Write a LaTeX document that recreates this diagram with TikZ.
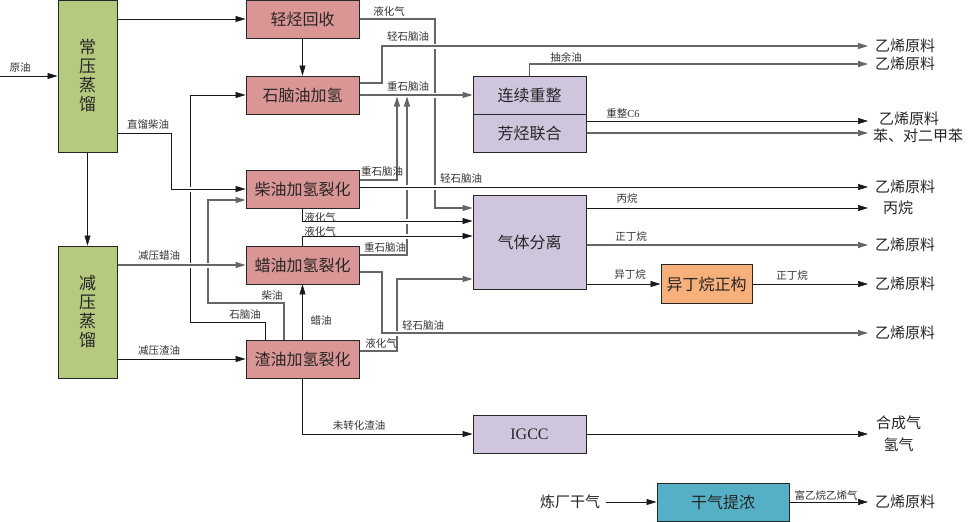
\documentclass[tikz,border=0pt]{standalone}
\usepackage{fontspec}
\setmainfont{Liberation Serif}
\newfontfamily\cjk{Noto Sans CJK SC}
\usetikzlibrary{arrows.meta}
\definecolor{boxgreen}{HTML}{B5C97F}
\definecolor{boxred}{HTML}{D99694}
\definecolor{boxpurple}{HTML}{CFC6DD}
\definecolor{boxorange}{HTML}{F7B07A}
\definecolor{boxteal}{HTML}{55B0C5}
\pgfdeclarelayer{bg}
\pgfsetlayers{bg,main}
\begin{document}
\begin{tikzpicture}[x=1pt,y=-1pt,
  box/.style={draw=black!85,line width=0.9pt,inner sep=0pt,text=black!85,
    minimum width=113pt,minimum height=38pt,font=\cjk\fontsize{16}{16}\selectfont},
  redbox/.style={box,fill=boxred},
  purbox/.style={box,fill=boxpurple},
  grnbox/.style={box,fill=boxgreen,minimum width=59pt,align=center,font=\cjk\fontsize{17}{19}\selectfont},
  lab/.style={inner sep=0pt,text=black!80,font=\cjk\fontsize{10.5}{11}\selectfont},
  outtxt/.style={anchor=west,inner ysep=0pt,inner xsep=7pt,text=black!85,font=\cjk\fontsize{15}{22}\selectfont},
  bl/.style={draw=black!90,line width=0.6pt},
  gl/.style={draw=black!60,line width=1.1pt},
  arr/.style={-{Triangle[length=10pt,width=6pt]}},
  jump/.style={preaction={draw=white,line width=5pt,-}}]
\useasboundingbox (0,0) rectangle (970,522);

% ---- boxes ----
\node[grnbox,minimum height=152pt] (cz) at (87.5,76) {常\\压\\蒸\\馏};
\node[grnbox,minimum height=132pt] (jz) at (87.5,312) {减\\压\\蒸\\馏};
\node[redbox] (qt) at (302.5,19) {轻烃回收};
\node[redbox] (sn) at (302.5,95) {石脑油加氢};
\node[redbox] (cy) at (302.5,189) {柴油加氢裂化};
\node[redbox] (ly) at (302.5,265) {蜡油加氢裂化};
\node[redbox] (zy) at (302.5,359) {渣油加氢裂化};
\node[purbox] (lx) at (529.5,95) {连续重整};
\node[purbox] (fh) at (529.5,133) {芳烃联合};
\node[purbox,minimum height=94pt] (qf) at (529.5,242) {气体分离};
\node[purbox,font=\fontsize{16}{16}\selectfont] (ig) at (529.5,434) {IGCC};
\node[box,fill=boxorange,minimum width=91pt,minimum height=39pt] (yd) at (706.5,284) {异丁烷正构};
\node[box,fill=boxteal,minimum width=132pt] (gq) at (723,502) {干气提浓};

% ---- outputs ----
\node[outtxt] (o1) at (868,46) {乙烯原料};
\node[outtxt] (o2) at (868,64) {乙烯原料};
\node[outtxt,inner xsep=11pt] (o3) at (868,119) {乙烯原料};
\node[outtxt,inner xsep=5pt] (o4) at (868,135.5) {苯、对二甲苯};
\node[outtxt] (o5) at (868,187) {乙烯原料};
\node[outtxt,inner xsep=15pt] (o6) at (868,208) {丙烷};
\node[outtxt] (o7) at (868,245) {乙烯原料};
\node[outtxt] (o8) at (868,284) {乙烯原料};
\node[outtxt] (o9) at (868,333) {乙烯原料};
\node[outtxt,inner xsep=8pt,align=center] (o10) at (868,434) {合成气\\氢气};
\node[outtxt] (o11) at (868,502) {乙烯原料};
\node[inner sep=0pt,text=black!85,font=\cjk\fontsize{15}{15}\selectfont] (lc) at (570,502) {炼厂干气};
\coordinate (src) at (0,76);

% ---- connectors ----
\begin{pgfonlayer}{bg}
\draw[bl,arr] (zy.north -| 265,0) |- (190,322) |- (sn.west);
\draw[gl,arr,jump] (zy.north -| 284,0) |- (208,303) |- (cy.west |- 0,200);
\draw[bl,arr,jump] (cz.east |- 0,133) -| (171,189) -- (cy.west);
\draw[gl,arr,jump] (jz.east |- ly) -- (ly.west);
\draw[bl,arr] (jz.east |- zy) -- (zy.west);
\draw[bl,arr] (src) -- (src -| cz.west);
\draw[bl,arr] (cz.east |- qt) -- (qt.west);
\draw[bl,arr] (qt.south) -- (sn.north);
\draw[bl,arr] (cz.south) -- (jz.north);
\draw[bl,arr] (zy.north) -- (ly.south);
\draw[bl,arr] (zy.south) |- (ig.west);
\draw[bl,arr] (ig.east) -- (o10.west);
\draw[bl,arr] ([xshift=6pt]lc.east) -- (gq.west);
\draw[bl,arr] (gq.east) -- (o11.west);
\draw[gl,arr] (qt.east) -| (435,208) -- (qf.west |- 0,208);
\draw[gl,arr,jump] (sn.east |- 0,83) -| (382,46) -- (o1.west);
\draw[gl,arr,jump] (sn.east) -- (lx.west);
\draw[gl,arr] (cy.east |- 0,180) -| (397,96.5);
\draw[gl,arr] (ly.east |- 0,255) -| (407,96.5);
\draw[bl,arr,jump] (cy.east |- 0,187) -- (o5.west);
\draw[bl,arr,jump] (cy.south) |- (qf.west |- 0,221);
\draw[bl,arr,jump] (ly.north) |- (qf.west |- 0,236);
\draw[gl,arr] (zy.east |- 0,351) -| (397,279) -- (qf.west |- 0,279);
\draw[gl,arr,jump] (ly.east |- 0,272) -| (382,333) -- (o9.west);
\draw[gl,arr] (lx.north) |- (o2.west);
\draw[bl,arr] (fh.east |- 0,121) -- (o3.west |- 0,121);
\draw[gl,arr] (fh.east) -- (o4.west |- 0,133);
\draw[bl,arr] (qf.east |- 0,208) -- (o6.west);
\draw[gl,arr] (qf.east |- 0,245) -- (o7.west);
\draw[bl,arr] (qf.east |- yd) -- (yd.west);
\draw[bl,arr] (yd.east) -- (o8.west);
\end{pgfonlayer}

% ---- labels ----
\node[lab] (l1) at (20,68) {原油};
\node[lab] (l2) at (389,11) {液化气};
\node[lab] (l3) at (408,37) {轻石脑油};
\node[lab] (l4) at (408,87) {重石脑油};
\node[lab] (l5) at (566,57) {抽余油};
\node[lab] (l6) at (623,113) {重整{\rmfamily C6}};
\node[lab] (l7) at (148,124) {直馏柴油};
\node[lab] (l8) at (382,172) {重石脑油};
\node[lab] (l9) at (461,179) {轻石脑油};
\node[lab] (l10) at (320,217) {液化气};
\node[lab] (l11) at (320,231) {液化气};
\node[lab] (l12) at (385,248) {重石脑油};
\node[lab] (l13) at (627,199) {丙烷};
\node[lab] (l14) at (631,237) {正丁烷};
\node[lab] (l15) at (630,275) {异丁烷};
\node[lab] (l16) at (792,276) {正丁烷};
\node[lab] (l17) at (159,256) {减压蜡油};
\node[lab] (l18) at (159,351) {减压渣油};
\node[lab] (l19) at (272,296) {柴油};
\node[lab] (l20) at (245,315) {石脑油};
\node[lab] (l21) at (321,321) {蜡油};
\node[lab] (l22) at (423,326) {轻石脑油};
\node[lab] (l23) at (381,343) {液化气};
\node[lab] (l24) at (359,426) {未转化渣油};
\node[lab] (l25) at (826,495) {富乙烷乙烯气};
\end{tikzpicture}
\end{document}
